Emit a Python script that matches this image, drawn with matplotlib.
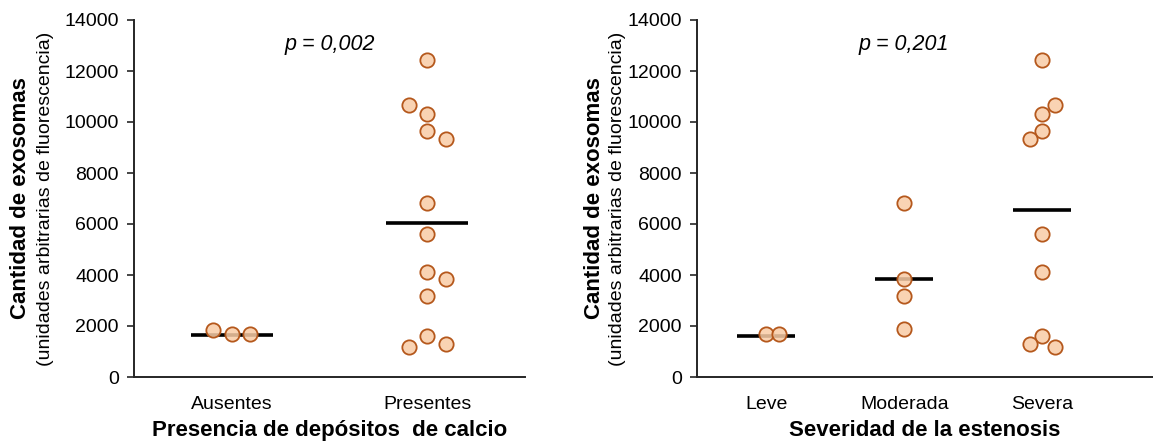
import matplotlib
matplotlib.use("Agg")
import matplotlib.pyplot as plt

plt.rcParams['font.family'] = ['Liberation Sans', 'DejaVu Sans']

# Panel A: presence of calcium deposits
calc_categories = ["Ausentes", "Presentes"]
calc_values = [
    [1843, 1675, 1675],
    [12431, 10654, 10314, 9660, 9333, 6824, 5621, 4105, 3843, 3190, 1608, 1190, 1281],
]
calc_means = [1650, 6050]
calc_p = "p = 0,002"

# Panel B: stenosis severity
sev_categories = ["Leve", "Moderada", "Severa"]
sev_values = [
    [1675, 1675],
    [6824, 3843, 3190, 1882],
    [12431, 10654, 10314, 9660, 9333, 5621, 4105, 1608, 1281, 1190],
]
sev_means = [1600, 3830, 6540]
sev_p = "p = 0,201"

# horizontal slot (-1 left, 0 centre, 1 right) of each point inside its column
calc_slots = [
    [-1, 0, 1],
    [0, -1, 0, 0, 1, 0, 0, 0, 1, 0, 0, -1, 1],
]
sev_slots = [
    [0, 1],
    [0, 0, 0, 0],
    [0, 1, 0, 0, -1, 0, 0, 0, -1, 1],
]

FACE = (0.976, 0.800, 0.650, 0.85)
EDGE = "#B5581C"
SPINE = "#262626"
W, H = 1153, 445

fig = plt.figure(figsize=(W / 100, H / 100), dpi=100)


def panel(rect, cats, values, slots, means, ptext, p_x, xlim, spread, xlabel, ylab_x):
    ax = fig.add_axes(rect)
    for i, (vals, sl, m) in enumerate(zip(values, slots, means)):
        pos = i + 1
        ax.plot([pos - 0.21, pos + 0.21], [m, m], color="black", lw=2.6,
                solid_capstyle="butt", zorder=2)
        xs = [pos + s * spread for s in sl]
        ax.plot(xs, vals, "o", ms=10.3, mfc=FACE, mec=EDGE, mew=1.3,
                linestyle="none", zorder=3)
    ax.set_xlim(*xlim)
    ax.set_ylim(0, 14000)
    ax.set_yticks(range(0, 14001, 2000))
    ax.set_xticks(range(1, len(cats) + 1))
    ax.set_xticklabels(cats)
    for s in ("top", "right"):
        ax.spines[s].set_visible(False)
    for s in ("left", "bottom"):
        ax.spines[s].set_color(SPINE)
        ax.spines[s].set_linewidth(1.4)
    ax.tick_params(axis="y", direction="out", length=5, width=1.2,
                   color=SPINE, labelsize=14, pad=6)
    ax.tick_params(axis="x", length=0, labelsize=14, pad=14)
    ax.set_xlabel(xlabel, fontsize=16, fontweight="bold", labelpad=5)
    ax.text(p_x, 13050, ptext, fontsize=15.5, style="italic",
            ha="center", va="center")
    yc = 1 - 198.5 / H
    fig.text(ylab_x[0] / W, yc, "Cantidad de exosomas", rotation=90,
             fontsize=16, fontweight="bold", ha="center", va="center")
    fig.text(ylab_x[1] / W, yc, "(unidades arbitrarias de fluorescencia)",
             rotation=90, fontsize=14, ha="center", va="center")
    return ax


bottom = 1 - 377 / H
height = (377 - 20) / H
panel([134 / W, bottom, (525 - 134) / W, height], calc_categories, calc_values,
      calc_slots, calc_means, calc_p, 1.5, (0.5, 2.5), 0.095,
      "Presencia de depósitos  de calcio", (21, 46))
panel([697 / W, bottom, (W - 697) / W, height], sev_categories, sev_values,
      sev_slots, sev_means, sev_p, 2.0, (0.5, 3.8), 0.09,
      "Severidad de la estenosis", (594, 618))

fig.savefig("out.png", dpi=100)
